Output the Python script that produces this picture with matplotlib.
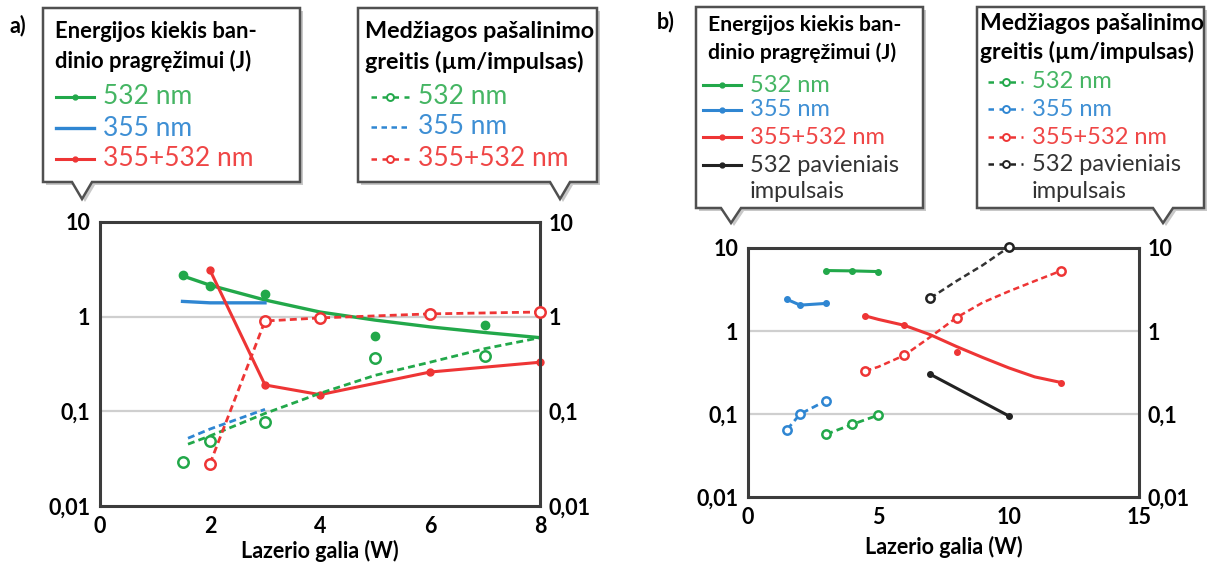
import matplotlib
matplotlib.use("Agg")
import matplotlib.pyplot as plt
from matplotlib.lines import Line2D
from matplotlib.patches import Polygon
from matplotlib.ticker import FixedLocator, NullLocator

plt.rcParams['font.family'] = ['Lato', 'DejaVu Sans']

# ---------------- data, panel a ----------------
a_g_x = [1.5, 2, 3, 5, 7]
a_g_y = [2.75, 2.1, 1.75, 0.63, 0.82]
a_g_fit_x = [1.5, 2, 3, 4, 5, 6, 7, 8]
a_g_fit_y = [2.7, 2.15, 1.5, 1.12, 0.92, 0.78, 0.68, 0.6]
a_b_x = [1.5, 2, 3]
a_b_y = [1.45, 1.4, 1.4]
a_r_x = [2, 3, 4, 6, 8]
a_r_y = [3.1, 0.19, 0.15, 0.26, 0.33]

a_gd_x = [1.5, 2, 3, 5, 7]
a_gd_y = [0.029, 0.049, 0.078, 0.37, 0.38]
a_gd_fit_x = [1.6, 2, 3, 4, 5, 6, 7, 8]
a_gd_fit_y = [0.045, 0.055, 0.095, 0.155, 0.24, 0.33, 0.46, 0.6]
a_bd_x = [1.6, 2, 3]
a_bd_y = [0.052, 0.065, 0.105]
a_rd_x = [2, 3, 4, 6, 8]
a_rd_y = [0.028, 0.9, 0.97, 1.07, 1.12]

# ---------------- data, panel b ----------------
b_g_x = [3, 4, 5]
b_g_y = [5.35, 5.3, 5.2]
b_b_x = [1.5, 2, 3]
b_b_y = [2.4, 2.05, 2.15]
b_r_x = [4.5, 6, 8, 12]
b_r_y = [1.52, 1.19, 0.56, 0.235]
b_r_fit_x = [4.5, 5, 6, 7, 8, 9, 10, 11, 12]
b_r_fit_y = [1.52, 1.38, 1.17, 0.9, 0.65, 0.48, 0.36, 0.28, 0.24]
b_k_x = [7, 10]
b_k_y = [0.30, 0.095]

b_gd_x = [3, 4, 5]
b_gd_y = [0.057, 0.075, 0.097]
b_bd_x = [1.5, 2, 3]
b_bd_y = [0.065, 0.1, 0.145]
b_rd_x = [4.5, 6, 8, 12]
b_rd_y = [0.33, 0.51, 1.45, 5.3]
b_rd_fit_x = [4.5, 5, 6, 7, 8, 9, 10, 11, 12]
b_rd_fit_y = [0.33, 0.37, 0.51, 0.85, 1.45, 2.2, 3.0, 4.0, 5.3]
b_kd_x = [7, 8, 9, 10]
b_kd_y = [2.5, 4.0, 6.2, 10.2]

y_ticks = [0.01, 0.1, 1, 10]
y_labels = ["0,01", "0,1", "1", "10"]

GREEN = "#22a84a"
BLUE = "#2f86d2"
RED = "#ee3535"
BLACK = "#222222"
GREEN_T = "#45b563"
BLUE_T = "#3e8fd4"
RED_T = "#ef4646"
BLACK_T = "#333333"
DASH = (0, (2.5, 1.5))

W, H = 1214, 565
fig = plt.figure(figsize=(W / 100, H / 100), dpi=100)


def fx(x):
    return x / W


def fy(y):
    return 1 - y / H


def setup_axes(rect, xmax, xticks, labelpad):
    ax = fig.add_axes(rect)
    ax.set_yscale("log")
    ax.set_ylim(0.01, 10)
    ax.set_xlim(0, xmax)
    ax.xaxis.set_major_locator(FixedLocator(xticks))
    ax.set_xticklabels([str(t) for t in xticks], fontsize=15.5, fontweight="bold")
    ax.yaxis.set_major_locator(FixedLocator(y_ticks))
    ax.yaxis.set_minor_locator(NullLocator())
    ax.set_yticklabels(y_labels, fontsize=15.5, fontweight="bold")
    ax.tick_params(length=0, pad=7)
    for v in [0.1, 1]:
        ax.axhline(v, color="#cfcfcf", lw=1.6, zorder=0)
    for s in ax.spines.values():
        s.set_color("#3c3c3c")
        s.set_linewidth(2.2)
    ax2 = ax.twinx()
    ax2.set_yscale("log")
    ax2.set_ylim(0.01, 10)
    ax2.yaxis.set_major_locator(FixedLocator(y_ticks))
    ax2.yaxis.set_minor_locator(NullLocator())
    ax2.set_yticklabels(y_labels, fontsize=15.5, fontweight="bold")
    ax2.tick_params(length=0, pad=6)
    for s in ax2.spines.values():
        s.set_visible(False)
    ax.set_xlabel("Lazerio galia (W)", fontsize=15.5, fontweight="bold", labelpad=labelpad)
    return ax


def solid(ax, x, y, c, ms=5, line=True):
    ax.plot(x, y, color=c, lw=2.2, ls="-" if line else "none", marker="o", ms=ms,
            mfc=c, mec=c, clip_on=False)


def dashed(ax, x, y, c, ms=8, line=True):
    ax.plot(x, y, color=c, lw=2.0, ls=DASH if line else "none", marker="o", ms=ms,
            mfc="white", mec=c, mew=1.8, clip_on=False, zorder=3)


# ---------------- panel a ----------------
axa = setup_axes([fx(100), fy(506), fx(440), 284 / H], 8, [0, 2, 4, 6, 8], 2.5)
axa.plot(a_g_fit_x, a_g_fit_y, color=GREEN, lw=2.4)
solid(axa, a_g_x, a_g_y, GREEN, ms=6, line=False)
axa.plot(a_b_x, a_b_y, color=BLUE, lw=2.4)
solid(axa, a_r_x, a_r_y, RED, ms=5)
axa.plot(a_gd_fit_x, a_gd_fit_y, color=GREEN, lw=2.0, ls=DASH)
dashed(axa, a_gd_x, a_gd_y, GREEN, ms=7.5, line=False)
axa.plot(a_bd_x, a_bd_y, color=BLUE, lw=2.0, ls=DASH)
dashed(axa, a_rd_x, a_rd_y, RED, ms=7.5)

# ---------------- panel b ----------------
axb = setup_axes([fx(748), fy(497), fx(391), 249 / H], 15, [0, 5, 10, 15], 6)
solid(axb, b_g_x, b_g_y, GREEN, ms=4)
solid(axb, b_b_x, b_b_y, BLUE, ms=4)
axb.plot(b_r_fit_x, b_r_fit_y, color=RED, lw=2.2)
solid(axb, b_r_x, b_r_y, RED, ms=4, line=False)
solid(axb, b_k_x, b_k_y, BLACK, ms=4)
dashed(axb, b_gd_x, b_gd_y, GREEN, ms=6)
dashed(axb, b_bd_x, b_bd_y, BLUE, ms=6)
axb.plot(b_rd_fit_x, b_rd_fit_y, color=RED, lw=1.8, ls=DASH)
dashed(axb, b_rd_x, b_rd_y, RED, ms=6, line=False)
axb.plot(b_kd_x, b_kd_y, color=BLACK_T, lw=1.8, ls=DASH, clip_on=False)
dashed(axb, [b_kd_x[0], b_kd_x[-1]], [b_kd_y[0], b_kd_y[-1]], BLACK, ms=6, line=False)


# ---------------- callout legends ----------------
def callout(x0, y0, x1, y1, tipx, tipy, half=10):
    pts = [(x0, y0), (x1, y0), (x1, y1), (tipx + half, y1), (tipx, tipy),
           (tipx - half, y1), (x0, y1)]
    shadow = Polygon([(fx(px + 3), fy(py + 3)) for px, py in pts], closed=True,
                     transform=fig.transFigure, facecolor="#c8c8c8", edgecolor="none", zorder=1)
    box = Polygon([(fx(px), fy(py)) for px, py in pts], closed=True,
                  transform=fig.transFigure, facecolor="white", edgecolor="#505050",
                  lw=1.8, zorder=2)
    fig.add_artist(shadow)
    fig.add_artist(box)


def title(x, y, text, fs):
    fig.text(fx(x), fy(y), text, fontsize=fs, fontweight="bold", va="center", zorder=4)


def entry(x, y, text, c, tc, kind, fs, length=38, tx_gap=9):
    seg = ([fx(x), fx(x + length)], [fy(y), fy(y)])
    if kind == "solid":
        fig.add_artist(Line2D(*seg, transform=fig.transFigure, color=c, lw=2.2, zorder=3))
        fig.add_artist(Line2D([fx(x + length / 2)], [fy(y)], transform=fig.transFigure,
                              color=c, marker="o", ms=3.5, zorder=3))
    elif kind == "plain":
        fig.add_artist(Line2D(*seg, transform=fig.transFigure, color=c, lw=2.4, zorder=3))
    elif kind == "dots":
        fig.add_artist(Line2D(*seg, transform=fig.transFigure, color=c, lw=1.8,
                              ls=(0, (2.2, 1.8)), zorder=3))
    else:
        fig.add_artist(Line2D(*seg, transform=fig.transFigure, color=c, lw=1.8,
                              ls=(0, (2.2, 2.2)), zorder=3))
        fig.add_artist(Line2D([fx(x + length / 2)], [fy(y)], transform=fig.transFigure,
                              color=c, marker="o", ms=5, mfc="white", mec=c, mew=1.4, zorder=3))
    for i, t in enumerate(text.split("\n")):
        fig.text(fx(x + length + tx_gap), fy(y + i * 27), t, color=tc, fontsize=fs,
                 va="center", ha="left", zorder=4)


# panel a, energy
callout(43, 8, 300, 182, 82, 199)
title(55, 31, "Energijos kiekis ban-", 15.8)
title(55, 61, "dinio pragręžimui (J)", 15.8)
entry(56, 97, "532 nm", GREEN, GREEN_T, "solid", 19)
entry(56, 128, "355 nm", BLUE, BLUE_T, "plain", 19)
entry(56, 159, "355+532 nm", RED, RED_T, "solid", 19)

# panel a, removal rate
callout(358, 8, 597, 182, 560, 199)
title(365, 31, "Medžiagos pašalinimo", 16.8)
title(365, 62, "greitis (µm/impulsas)", 16.8)
entry(371, 97, "532 nm", GREEN, GREEN_T, "open", 19, length=38)
entry(371, 127, "355 nm", BLUE, BLUE_T, "dots", 19, length=38)
entry(371, 159, "355+532 nm", RED, RED_T, "open", 19, length=38)

fig.text(fx(9), fy(26), "a)", fontsize=15.5, fontweight="bold", va="center")

# panel b, energy
callout(696, 7, 923, 208, 731, 223)
title(708, 25, "Energijos kiekis ban-", 15.2)
title(708, 53, "dinio pragręžimui (J)", 15.2)
entry(703, 85, "532 nm", GREEN, GREEN_T, "solid", 17)
entry(703, 110, "355 nm", BLUE, BLUE_T, "solid", 17)
entry(703, 137, "355+532 nm", RED, RED_T, "solid", 17)
entry(703, 165, "532 pavieniais\nimpulsais", BLACK, BLACK_T, "solid", 17)

# panel b, removal rate
callout(977, 7, 1204, 208, 1163, 223)
title(980, 24, "Medžiagos pašalinimo", 16.5)
title(980, 52, "greitis (µm/impulsas)", 16.5)
entry(988, 82, "532 nm", GREEN, GREEN_T, "open", 17, length=35)
entry(988, 109, "355 nm", BLUE, BLUE_T, "open", 17, length=35)
entry(988, 137, "355+532 nm", RED, RED_T, "open", 17, length=35)
entry(988, 164, "532 pavieniais\nimpulsais", BLACK, BLACK_T, "open", 17, length=35)

fig.text(fx(657), fy(22), "b)", fontsize=15.5, fontweight="bold", va="center")

fig.savefig("out.png", dpi=100)
